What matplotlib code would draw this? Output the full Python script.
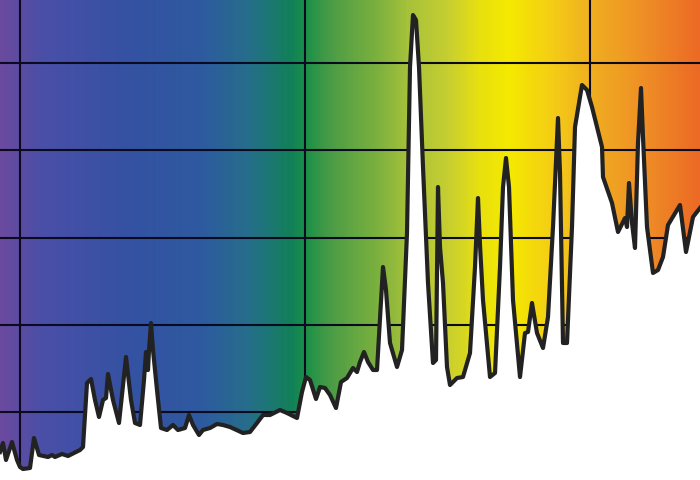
import numpy as np
import matplotlib.pyplot as plt
from matplotlib.colors import LinearSegmentedColormap

# spectrum trace (pixel x, pixel y)
px = [0, 3, 6, 12, 17, 20, 23, 30, 34, 39, 48, 52, 55, 62, 68, 80, 83, 87, 91, 95,
      99, 103, 106, 108, 113, 119, 126, 131, 135, 140, 144, 146, 148, 149, 151, 153, 157, 161, 167, 173,
      178, 185, 189, 193, 199, 203, 210, 217, 223, 230, 243, 250, 257, 263, 270, 280, 287, 297, 302, 306,
      310, 316, 320, 325, 330, 336, 341, 347, 350, 353, 357, 360, 364, 368, 373, 377, 383, 386, 390, 397,
      402, 407, 410, 413, 416, 419, 423, 428, 433, 436, 438, 440, 443, 447, 450, 457, 463, 470, 475, 478,
      480, 483, 490, 495, 500, 503, 506, 509, 513, 520, 525, 528, 532, 537, 543, 548, 553, 558, 560, 563,
      567, 572, 575, 582, 587, 592, 602, 603, 612, 618, 625, 627, 629, 632, 635, 638, 641, 643, 647, 653,
      658, 663, 668, 680, 686, 693, 700]
py = [452, 443, 460, 442, 460, 467, 469, 468, 438, 455, 457, 455, 457, 454, 456, 450, 447, 383, 379, 400,
      417, 400, 398, 374, 400, 423, 357, 400, 423, 425, 380, 352, 370, 350, 323, 350, 390, 428, 430, 425,
      430, 428, 415, 425, 435, 430, 428, 424, 425, 427, 433, 432, 423, 415, 415, 410, 413, 418, 392, 377,
      380, 399, 387, 388, 395, 408, 382, 378, 373, 368, 372, 362, 352, 362, 370, 370, 267, 290, 343, 367,
      350, 233, 67, 15, 20, 67, 167, 283, 363, 360, 187, 247, 283, 367, 385, 378, 377, 353, 267, 198,
      245, 300, 377, 373, 267, 187, 158, 187, 300, 377, 333, 332, 303, 333, 348, 317, 227, 118, 173, 343,
      343, 227, 127, 85, 90, 107, 147, 177, 203, 232, 218, 227, 183, 223, 248, 143, 88, 137, 227, 273,
      270, 257, 225, 205, 252, 217, 208]

# convert to wavelength (nm) and relative intensity
wavelength = 400 + (np.array(px) - 20) / 2.85
intensity = 1 + (412 - np.array(py)) / 87.25

wl_min, wl_max = 400 - 20 / 2.85, 400 + 680 / 2.85
i_min, i_max = 1 - 68 / 87.25, 1 + 412 / 87.25

spectrum_colors = ['#6a4a9e', '#4a4fa8', '#3452a2', '#2e5aa0', '#256f8a', '#12805a', '#1a9048',
                   '#4a9c46', '#7fb23e', '#a8c23a', '#c8cf30', '#e8e010', '#f5ea00', '#f4c818',
                   '#f0b020', '#ef9225', '#ec6a25']
spectrum_px = [0, 40, 130, 200, 250, 290, 305, 330, 380, 410, 450, 480, 510, 560, 590, 640, 700]
spectrum_pos = [p / 700 for p in spectrum_px]
cmap = LinearSegmentedColormap.from_list('spec', list(zip(spectrum_pos, spectrum_colors)))

fig = plt.figure(figsize=(7, 4.8), dpi=100)
ax = fig.add_axes([0, 0, 1, 1])

grad = np.linspace(0, 1, 700).reshape(1, -1)
ax.imshow(grad, cmap=cmap, aspect='auto', extent=[wl_min, wl_max, i_min, i_max], zorder=0)

for v in [400, 500, 600]:
    ax.axvline(v, color='#0a0a20', lw=1.5, zorder=1)
for h in [1, 2, 3, 4, 5]:
    ax.axhline(h, color='#0a0a20', lw=1.5, zorder=1)

ax.fill_between(wavelength, intensity, i_min, color='white', zorder=2)
ax.plot(wavelength, intensity, color='#222222', lw=3, solid_joinstyle='round', zorder=3)

ax.set_xlim(wl_min, wl_max)
ax.set_ylim(i_min, i_max)
ax.axis('off')

plt.savefig('out.png', dpi=100)
